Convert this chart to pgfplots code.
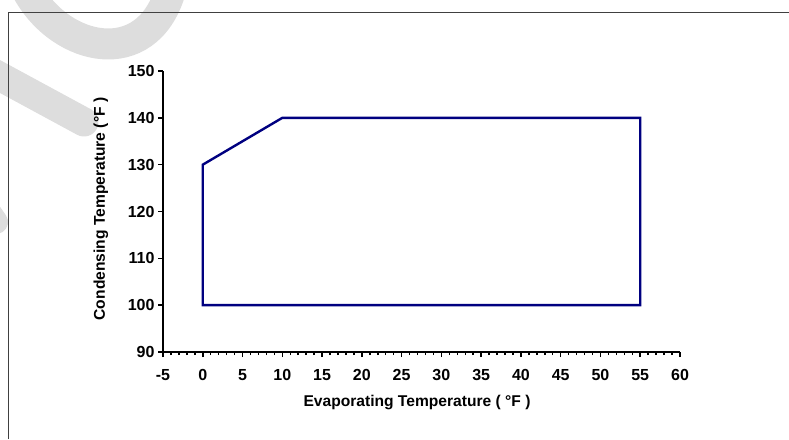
\documentclass[border=0pt]{standalone}
\usepackage{fontspec}
\setmainfont{Liberation Sans}
\usepackage{pgfplots}
\pgfplotsset{compat=1.18}
\definecolor{navy}{RGB}{0,0,128}
\definecolor{wm}{RGB}{221,221,221}
\definecolor{framec}{RGB}{64,64,64}
\begin{document}
\begin{tikzpicture}
\path[use as bounding box] (0pt,0pt) rectangle (789pt,-439pt);
\begin{scope}
\clip (0pt,0pt) rectangle (789pt,-439pt);
\draw[wm, line width=31pt, line cap=round] (28pt,8pt) .. controls (62pt,-52pt) and (146pt,-70pt) .. (170pt,8pt);
\draw[wm, line width=29pt, line cap=round] (-12pt,-70pt) -- (84pt,-122pt);
\draw[wm, line width=24pt, line cap=round] (-22pt,-196pt) -- (-4pt,-222pt);
\end{scope}
\draw[framec, line width=1.3pt] (8.5pt,-439pt) -- (8.5pt,-12.5pt) -- (789pt,-12.5pt);
\begin{axis}[
  at={(163pt,-352pt)}, anchor=south west,
  scale only axis, width=517pt, height=281pt,
  xmin=-5, xmax=60, ymin=90, ymax=150,
  axis x line*=bottom, axis y line*=left,
  axis line style={-, black, line width=1.8pt},
  xtick={-5,0,...,60}, ytick={90,100,...,150},
  minor x tick num=4,
  tick align=outside,
  major tick length=5pt, minor tick length=3pt,
  tick style={black, line width=1.5pt},
  /pgf/number format/assume math mode=true,
  ticklabel style={font=\bfseries\fontsize{16}{19}\selectfont},
  xticklabel style={anchor=base, yshift=-23pt},
  xlabel={Evaporating Temperature ( °F )},
  ylabel={Condensing Temperature (°F )},
  label style={font=\bfseries\fontsize{15.6}{18}\selectfont},
  xlabel style={at={(axis description cs:0.4913,-0.1922)}, anchor=base},
  ylabel style={at={(axis description cs:-0.1122,0.509)}, anchor=base},
]
\addplot[navy, line width=2.4pt, line join=miter, mark=none] coordinates {(0,100) (0,130) (10,140) (55,140) (55,100)} -- cycle;
\end{axis}
\end{tikzpicture}
\end{document}
